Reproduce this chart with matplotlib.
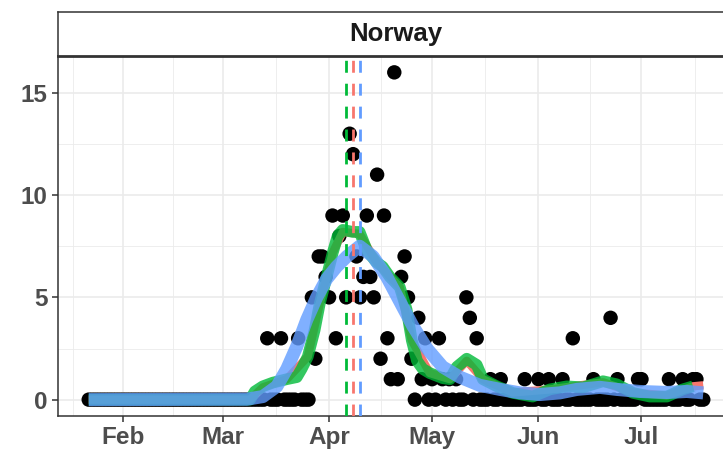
import numpy as np
import pandas as pd
import matplotlib
matplotlib.use("Agg")
import matplotlib.pyplot as plt
import matplotlib.dates as mdates

plt.rcParams['font.family'] = ['Liberation Sans', 'DejaVu Sans']
plt.rcParams['lines.scale_dashes'] = False

# ---------------- data ----------------
country = "Norway"
first_day = "2020-01-22"
origin = "2020-02-01"   # day 0 for the smoothed-curve day offsets

daily_deaths = [
    0, 0, 0, 0, 0, 0, 0, 0, 0, 0,            # Jan 22 - Jan 31
    0, 0, 0, 0, 0, 0, 0, 0, 0, 0,            # Feb 1 - Feb 10
    0, 0, 0, 0, 0, 0, 0, 0, 0, 0,
    0, 0, 0, 0, 0, 0, 0, 0, 0, 0,
    0, 0, 0, 0, 0, 0, 0, 0, 0, 0,
    0, 0,                                    # .. Mar 13
    3, 0, 0, 0, 3, 0, 0, 0, 0, 3, 0, 0, 0,   # Mar 14 - Mar 26
    5, 2, 7, 7, 6, 5, 9, 3, 8, 9,            # Mar 27 - Apr 5
    5, 13, 12, 7, 5, 6, 9, 6, 5, 11,
    2, 9, 3, 1, 16, 1, 6, 7, 5, 2,
    0, 4, 1, 3, 0, 1, 0, 3, 1, 0,
    1, 0, 1, 0, 0, 5, 4, 0, 3, 0,
    0, 0, 1, 0, 0, 1, 0, 0, 0, 0,
    0, 0, 1, 0, 0, 0, 1, 0, 0, 1,
    0, 0, 0, 1, 0, 0, 3, 0, 0, 0,
    0, 0, 1, 0, 0, 0, 0, 4, 0, 1,
    0, 0, 0, 0, 0, 1, 1, 0, 0, 0,
    0, 0, 0, 0, 1, 0, 0, 0, 1, 0,
    0, 1, 1, 0, 0,                           # .. Jul 19
]

green_days = [-10, 37, 38.4, 40.7, 43.6, 47.7, 50.6, 52, 53.8, 55.8, 57.3, 59.3,
              61.1, 62.5, 64, 66.9, 68.9, 71, 73.9, 75.6, 77.7, 80.6, 82.6, 84.1,
              85.6, 87.3, 89.3, 93.1, 95.2, 97.2, 100.1, 103, 104.8, 108.9, 113.5,
              119.3, 124.3, 129.3, 134, 139.8, 143.8, 148.5, 153.4, 158.4, 163, 166]
green_vals = [0, 0, 0.4, 0.65, 0.83, 1.0, 1.1, 1.5, 2.1, 3.4, 4.7, 6.0,
              7.2, 8.0, 8.3, 8.2, 8.2, 7.3, 6.7, 6.5, 6.0, 5.5, 4.4, 2.9,
              1.9, 1.5, 1.3, 1.05, 1.0, 1.6, 2.0, 1.7, 1.0, 0.65, 0.33,
              0.15, 0.5, 0.65, 0.6, 0.9, 0.75, 0.33, 0.15, 0.15, 0.5, 0.65]

red_days = [-10, 37, 40.7, 47.7, 53.8, 57.3, 61.1, 64, 68.9, 73.9, 80.6, 84.1,
            89.3, 95.2, 100.1, 104.8, 113.5, 124.3, 139.8, 148.5, 158.4, 166, 169]
red_vals = [0, 0, 0.6, 1.0, 2.1, 4.7, 7.2, 8.2, 8.1, 6.7, 5.5, 2.9,
            1.3, 1.0, 1.9, 1.0, 0.35, 0.5, 0.85, 0.35, 0.2, 0.65, 0.7]

blue_days = [-10, 36, 40.7, 44.8, 47.7, 50.6, 53.5, 56.4, 59.3, 62.2, 65.2, 68.9,
             72.8, 76.8, 80.6, 84.4, 88.5, 93.1, 98.1, 103.9, 109.8, 115.6, 121.4,
             127.2, 132.2, 138.9, 143.8, 150.5, 158.4, 164.2, 169]
blue_vals = [0, 0.02, 0.15, 0.65, 1.5, 2.6, 3.9, 5.0, 5.9, 6.5, 7.0, 7.5,
             7.0, 6.0, 4.8, 3.6, 2.5, 1.6, 1.1, 0.7, 0.5, 0.33, 0.25,
             0.33, 0.5, 0.6, 0.5, 0.4, 0.35, 0.4, 0.33]

peak_dates = {"green": "2020-04-06", "red": "2020-04-08", "blue": "2020-04-10"}

x_tick_dates = ["2020-02-01", "2020-03-01", "2020-04-01", "2020-05-01", "2020-06-01", "2020-07-01"]
x_tick_labels = ["Feb", "Mar", "Apr", "May", "Jun", "Jul"]
y_ticks = [0, 5, 10, 15]

# ---------------- styles ----------------
col_green = "#00BA38"
col_red = "#F8766D"
col_blue = "#619CFF"
grid_col = "#EBEBEB"
dark = "#333333"

W, H = 723, 451
fig = plt.figure(figsize=(W / 100, H / 100), dpi=100)
panel_l, panel_r, panel_t, panel_b, strip_t = 58, 734, 56, 416, 12
ax = fig.add_axes([panel_l / W, 1 - panel_b / H, (panel_r - panel_l) / W, (panel_b - panel_t) / H])

dates = pd.date_range(first_day, periods=len(daily_deaths), freq="D")
org = pd.Timestamp(origin)
g_x = org + pd.to_timedelta(green_days, unit="D")
r_x = org + pd.to_timedelta(red_days, unit="D")
b_x = org + pd.to_timedelta(blue_days, unit="D")

ax.scatter(dates, daily_deaths, s=108, color="black", edgecolors="none", zorder=3)
ax.plot(r_x, red_vals, color=col_red, lw=6.0, solid_capstyle="butt", solid_joinstyle="round", zorder=4)
ax.plot(g_x, green_vals, color=col_green, alpha=0.8, lw=8.4, solid_capstyle="butt", solid_joinstyle="round", zorder=5)
ax.plot(b_x, blue_vals, color=col_blue, alpha=0.8, lw=9.4, solid_capstyle="butt", solid_joinstyle="round", zorder=6)

for key, col in [("green", col_green), ("red", col_red), ("blue", col_blue)]:
    ax.axvline(pd.Timestamp(peak_dates[key]), color=col, lw=2.0, dashes=(8.6, 7.9), zorder=7)

# axes limits with 5% expansion
span = (dates[-1] - dates[0]) * 0.05
ax.set_xlim(dates[0] - span, dates[-1] + span)
ymax = max(daily_deaths)
ax.set_ylim(-0.05 * ymax, 1.05 * ymax)

major = pd.to_datetime(x_tick_dates)
ax.set_xticks(major)
ax.set_xticklabels(x_tick_labels)
edges = [major[0] - (major[1] - major[0])] + list(major) + [major[-1] + pd.Timedelta(days=31)]
minor = [edges[i] + (edges[i + 1] - edges[i]) / 2 for i in range(len(edges) - 1)]
ax.set_xticks(minor, minor=True)
ax.set_yticks(y_ticks)
ax.set_yticks([2.5, 7.5, 12.5], minor=True)

ax.grid(which="major", color=grid_col, lw=1.2, zorder=0)
ax.grid(which="minor", color=grid_col, lw=0.6, zorder=0)
ax.set_axisbelow(True)

ax.tick_params(which="major", length=4.3, width=1.1, color=dark, labelsize=17.5,
               labelcolor="#4D4D4D", pad=3)
ax.tick_params(which="minor", length=0)
for lab in ax.get_xticklabels() + ax.get_yticklabels():
    lab.set_fontweight("bold")
for sp in ax.spines.values():
    sp.set_color(dark)
    sp.set_linewidth(1.1)

# strip
sax = fig.add_axes([panel_l / W, 1 - panel_t / H, (panel_r - panel_l) / W, (panel_t - strip_t) / H])
sax.set_facecolor("white")
sax.set_xticks([])
sax.set_yticks([])
for sp in sax.spines.values():
    sp.set_color(dark)
    sp.set_linewidth(1.1)
sax.spines["bottom"].set_linewidth(2.0)
sax.text(0.5, 0.5, country, ha="center", va="center", fontsize=18.5, fontweight="bold",
         color="#1A1A1A", transform=sax.transAxes)

fig.savefig("out.png", dpi=100)
